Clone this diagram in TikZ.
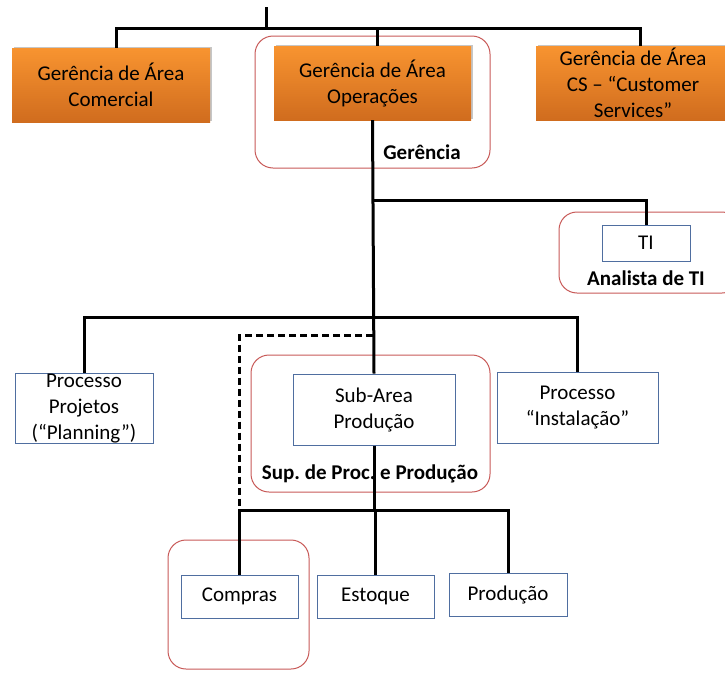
\documentclass[tikz,border=0pt]{standalone}
\usepackage{fontspec}
\setmainfont{Carlito}
\frenchspacing
\usetikzlibrary{shadows}
\definecolor{orangetop}{RGB}{248,148,48}
\definecolor{orangebot}{RGB}{208,108,30}
\definecolor{boxblue}{RGB}{79,110,160}
\definecolor{grpred}{RGB}{200,90,88}
\tikzset{
  every node/.style={font=\fontsize{21}{26}\selectfont},
  gerbox/.style={rectangle, top color=orangetop, bottom color=orangebot, draw=none,
    align=center, inner sep=0pt,
    drop shadow={shadow xshift=1.5pt, shadow yshift=1.5pt, fill=gray!45, opacity=1}},
  procbox/.style={rectangle, draw=boxblue, line width=1pt, fill=white, align=center, inner sep=0pt},
  grp/.style={draw=grpred, line width=1pt, rounded corners=18pt},
  grplabel/.style={font=\fontsize{21}{26}\selectfont\bfseries, inner sep=0pt},
  link/.style={black, line width=3pt},
}
\begin{document}
\begin{tikzpicture}[x=1pt, y=-1pt]
 \clip (0,0) rectangle (725,672);
 \fill[white] (0,0) rectangle (725,672);
 % groups
 \draw[grp] (255,36) rectangle (490,168);
 \draw[grp] (559,212) rectangle (740,293);
 \draw[grp] (251,355) rectangle (490,492);
 \draw[grp] (168,540) rectangle (309,669);
 \node[grplabel] (lbl-ger) at (422,152) {Gerência};
 \node[grplabel] (lbl-ti) at (646,278) {Analista de TI};
 \node[grplabel] (lbl-sup) at (370,474) {Sup. de Proc. e Produção};
 % junctions
 \coordinate (top) at (266,7);
 \coordinate (topj) at (266,28);
 \coordinate (tij) at (373,200);
 \coordinate (lvl2) at (373,317);
 \coordinate (dash) at (373,335);
 \coordinate (lvl3) at (374,510);
 \coordinate (compj) at (239.5,510);
 % boxes
 \node[gerbox, minimum width=198pt, minimum height=74pt] (com) at (111,85) {Gerência de Área\\Comercial};
 \node[gerbox, minimum width=197pt, minimum height=74pt] (ops) at (372.5,83) {Gerência de Área\\Operações};
 \node[gerbox, minimum width=194pt, minimum height=74pt] (cs) at (633,83) {Gerência de Área\\CS -- “Customer\\Services”};
 \node[procbox, minimum width=88pt, minimum height=36pt] (ti) at (646,243) {TI};
 \node[procbox, minimum width=138pt, minimum height=69pt] (proj) at (84,408.5) {Processo\\Projetos\\(“Planning”)};
 \node[procbox, minimum width=162pt, minimum height=71pt] (sub) at (374,409.5) {Sub-Area\\Produção};
 \node[procbox, minimum width=161pt, minimum height=71pt] (inst) at (577.5,407.5) {Processo\\“Instalação”};
 \node[procbox, minimum width=117pt, minimum height=43pt] (comp) at (239.5,596.5) {Compras};
 \node[procbox, minimum width=117pt, minimum height=43pt] (est) at (375.5,596.5) {Estoque};
 \node[procbox, minimum width=118pt, minimum height=43pt] (prod) at (508,594.5) {Produção};
 % connectors
 \draw[link] (top) -- (topj);
 \draw[link] (topj) -| ([xshift=5pt]com.north);
 \draw[link] (topj) -| ([xshift=4.5pt]ops.north);
 \draw[link] (topj) -| ([xshift=7pt]cs.north);
 \draw[link] (ops.south) -- (sub.north);
 \draw[link] (tij) -| (ti.north);
 \draw[link] (lvl2) -| (proj.north);
 \draw[link] (lvl2) -| (inst.north);
 \draw[link, dashed, dash pattern=on 7pt off 4pt] (dash) -| (compj);
 \draw[link] (sub.south) -- (lvl3);
 \draw[link] (lvl3) -- (compj) -- (comp.north);
 \draw[link] (lvl3) -| (prod.north);
 \draw[link] (lvl3) -| (est.north);
\end{tikzpicture}
\end{document}
